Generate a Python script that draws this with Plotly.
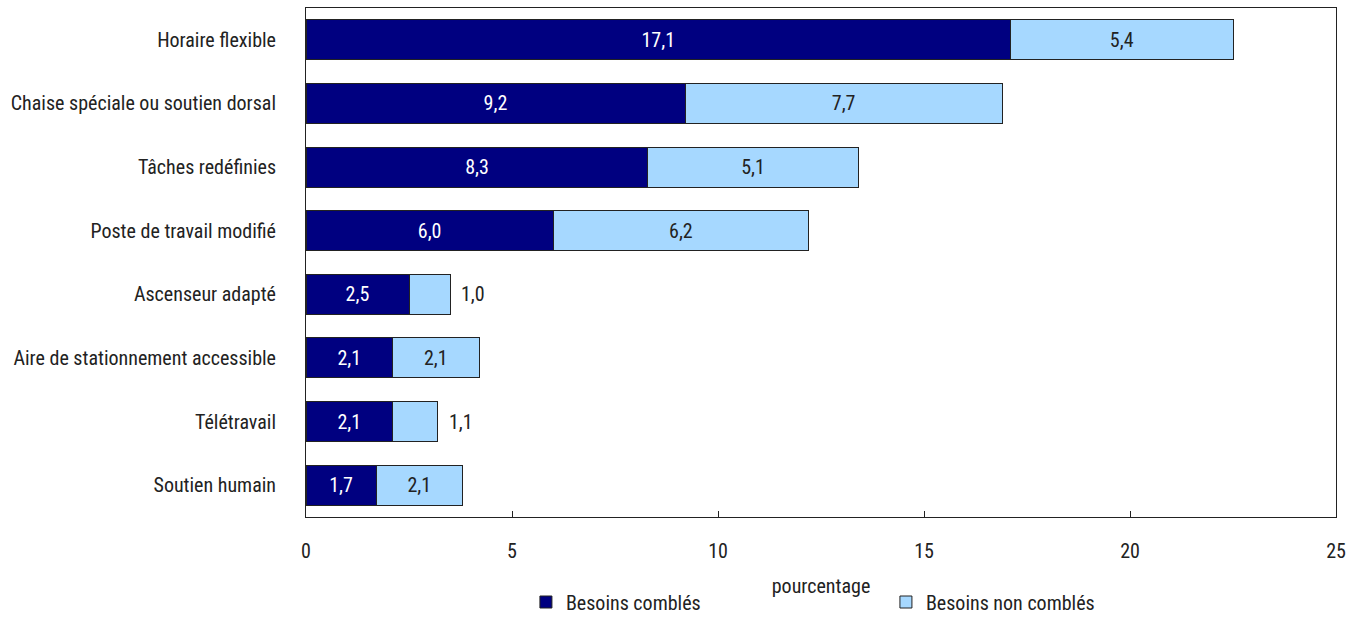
import plotly.graph_objects as go

categories = [
    "Horaire flexible",
    "Chaise spéciale ou soutien dorsal",
    "Tâches redéfinies",
    "Poste de travail modifié",
    "Ascenseur adapté",
    "Aire de stationnement accessible",
    "Télétravail",
    "Soutien humain",
]
met = [17.1, 9.2, 8.3, 6.0, 2.5, 2.1, 2.1, 1.7]
unmet = [5.4, 7.7, 5.1, 6.2, 1.0, 2.1, 1.1, 2.1]
series_names = ["Besoins comblés", "Besoins non comblés"]
x_ticks = [0, 5, 10, 15, 20, 25]

FONT = "Liberation Sans Narrow, Arial Narrow, Roboto Condensed, Liberation Sans, sans-serif"
SIZE = 20
TEXT_DARK = "#222222"


def fmt(v):
    return f"{v:.1f}".replace(".", ",")


# Narrow unmet segments get their label placed just right of the bar
narrow = [v < 1.2 for v in unmet]

fig = go.Figure()
fig.add_trace(go.Bar(
    y=categories, x=met, orientation="h", name=series_names[0],
    marker=dict(color="#000080", line=dict(color=TEXT_DARK, width=1)),
    text=[fmt(v) for v in met], textposition="inside", insidetextanchor="middle",
    textfont=dict(color="white", size=SIZE, family=FONT),
))
fig.add_trace(go.Bar(
    y=categories, x=unmet, orientation="h", name=series_names[1],
    marker=dict(color="#A6D8FF", line=dict(color=TEXT_DARK, width=1)),
    text=["" if n else fmt(v) for v, n in zip(unmet, narrow)],
    textposition="inside", insidetextanchor="middle",
    textfont=dict(color=TEXT_DARK, size=SIZE, family=FONT),
))

for cat, m, u, n in zip(categories, met, unmet, narrow):
    if n:
        fig.add_annotation(
            x=m + u, y=cat, text=fmt(u), showarrow=False,
            xanchor="left", xshift=9,
            font=dict(color=TEXT_DARK, size=SIZE, family=FONT),
        )

fig.update_layout(
    barmode="stack",
    bargap=0.37,
    width=1359, height=641,
    margin=dict(l=306, r=23, t=8, b=124, autoexpand=False),
    plot_bgcolor="white", paper_bgcolor="white",
    font=dict(family=FONT, size=SIZE, color=TEXT_DARK),
    separators=",.",
    showlegend=True,
    legend=dict(
        orientation="h", traceorder="normal",
        xref="container", x=0.387, xanchor="left",
        y=-0.167, yanchor="middle",
        entrywidth=315, entrywidthmode="pixels",
        font=dict(size=SIZE, family=FONT), itemclick=False,
    ),
)
fig.update_xaxes(
    range=[0, 25], tickvals=x_ticks, ticktext=[str(t) for t in x_ticks],
    ticks="inside", ticklen=6, tickcolor=TEXT_DARK,
    showline=True, linecolor=TEXT_DARK, linewidth=1, mirror=True,
    showgrid=False, zeroline=False, automargin=False,
    tickfont=dict(size=SIZE), ticklabelstandoff=16,
    title=dict(text="pourcentage", font=dict(size=SIZE), standoff=16),
)
fig.update_yaxes(
    autorange="reversed", showline=True, linecolor=TEXT_DARK, linewidth=1,
    mirror=True, ticks="", showgrid=False, ticklabelstandoff=25,
    automargin=False, tickfont=dict(size=SIZE),
)

fig.write_html("out.html")
